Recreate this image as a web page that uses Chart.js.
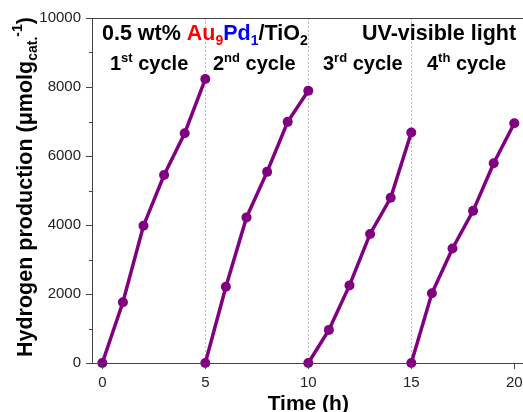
<!DOCTYPE html>
<html><head><meta charset="utf-8">
<script src="https://cdn.jsdelivr.net/npm/chart.js@4.4.1/dist/chart.umd.min.js"></script>
<style>html,body{margin:0;padding:0;background:#fff}#wrap{width:523px;height:412px}</style>
</head><body><div id="wrap"><canvas id="c" width="523" height="412"></canvas></div>
<script>
const cycle1Time = [0, 1, 2, 3, 4, 5];
const cycle1H2 = [0, 1760, 3980, 5450, 6660, 8230];
const cycle2Time = [5, 6, 7, 8, 9, 10];
const cycle2H2 = [0, 2210, 4220, 5540, 6990, 7890];
const cycle3Time = [10, 11, 12, 13, 14, 15];
const cycle3H2 = [0, 960, 2250, 3740, 4790, 6680];
const cycle4Time = [15, 16, 17, 18, 19, 20];
const cycle4H2 = [0, 2020, 3320, 4410, 5790, 6950];
const xTicks = [0, 5, 10, 15, 20];
const yTicks = [0, 2000, 4000, 6000, 8000, 10000];
const cycleDividers = [5, 10, 15];

const PURPLE = '#800080';
const FONT = '"Liberation Sans", Arial, sans-serif';
function pts(t, v){ return t.map((x,i)=>({x:x, y:v[i]})); }
function ds(t, v){ return {data: pts(t,v), borderColor: PURPLE, backgroundColor: PURPLE, borderWidth: 3.5, pointRadius: 5, pointHoverRadius: 5, pointBorderWidth: 0, tension: 0, clip: false}; }

function rich(ctx, x, y, parts){
  let cx = x;
  for (const p of parts){
    ctx.font = 'bold ' + p.s + 'px ' + FONT;
    ctx.fillStyle = p.c || '#000';
    ctx.fillText(p.t, cx, y + (p.dy||0));
    cx += ctx.measureText(p.t).width;
  }
  return cx - x;
}

const deco = {
  id: 'deco',
  beforeDatasetsDraw(chart){
    const ctx = chart.ctx, xs = chart.scales.x, a = chart.chartArea;
    ctx.save();
    ctx.strokeStyle = '#b8b8b8'; ctx.lineWidth = 1; ctx.setLineDash([2,2]);
    for (const d of cycleDividers){
      const px = Math.round(xs.getPixelForValue(d)) + 0.5;
      ctx.beginPath(); ctx.moveTo(px, a.top); ctx.lineTo(px, a.bottom); ctx.stroke();
    }
    ctx.restore();
  },
  afterDraw(chart){
    const ctx = chart.ctx, xs = chart.scales.x, ys = chart.scales.y, a = chart.chartArea;
    const W = chart.width;
    ctx.save();
    ctx.strokeStyle = '#444'; ctx.lineWidth = 1; ctx.setLineDash([]);
    // frame
    ctx.beginPath();
    ctx.moveTo(a.left + 0.5, a.top + 0.5); ctx.lineTo(W, a.top + 0.5);
    ctx.moveTo(a.left + 0.5, a.top); ctx.lineTo(a.left + 0.5, a.bottom + 0.5);
    ctx.moveTo(a.left - 6, a.bottom + 0.5); ctx.lineTo(W, a.bottom + 0.5);
    ctx.stroke();
    // y ticks
    ctx.beginPath();
    for (let v = 0; v <= 10000; v += 1000){
      const py = Math.round(ys.getPixelForValue(v)) + 0.5;
      const len = (v % 2000 === 0) ? 6 : 3;
      ctx.moveTo(a.left - len, py); ctx.lineTo(a.left, py);
    }
    // x ticks
    for (const v of xTicks){
      const px = Math.round(xs.getPixelForValue(v)) + 0.5;
      ctx.moveTo(px, a.bottom); ctx.lineTo(px, a.bottom + 6);
    }
    ctx.stroke();
    // tick labels
    ctx.fillStyle = '#222'; ctx.font = '15px ' + FONT;
    ctx.textAlign = 'right'; ctx.textBaseline = 'middle';
    for (const v of yTicks){ ctx.fillText(String(v), a.left - 11, ys.getPixelForValue(v)); }
    ctx.textAlign = 'center'; ctx.textBaseline = 'alphabetic';
    for (const v of xTicks){ ctx.fillText(String(v), xs.getPixelForValue(v), a.bottom + 24); }
    // x title
    ctx.fillStyle = '#000'; ctx.font = 'bold 21px ' + FONT;
    ctx.fillText('Time (h)', xs.getPixelForValue(10), 410);
    // y title
    ctx.save();
    ctx.translate(32, 357); ctx.rotate(-Math.PI/2);
    ctx.textAlign = 'left';
    rich(ctx, 0, 0, [
      {t:'Hydrogen production (μmolg', s:21.5},
      {t:'cat.', s:14, dy:5},
      {t:'-1', s:14, dy:-10},
      {t:')', s:21.5}
    ]);
    ctx.restore();
    // annotations
    ctx.textAlign = 'left';
    rich(ctx, 102, 40, [
      {t:'0.5 wt% ', s:21.5},
      {t:'Au', s:21.5, c:'#ff0000'},
      {t:'9', s:14, c:'#ff0000', dy:5},
      {t:'Pd', s:21.5, c:'#0000ff'},
      {t:'1', s:14, c:'#0000ff', dy:5},
      {t:'/TiO', s:21.5},
      {t:'2', s:14, dy:5}
    ]);
    rich(ctx, 362, 40, [{t:'UV-visible light', s:21.5}]);
    const cyc = [[110,'1','st'],[213,'2','nd'],[323,'3','rd'],[427,'4','th']];
    for (const c of cyc){
      rich(ctx, c[0], 70, [{t:c[1], s:20},{t:c[2], s:13, dy:-8},{t:' cycle', s:20}]);
    }
    ctx.restore();
  }
};

new Chart(document.getElementById('c'), {
  type: 'line',
  data: { datasets: [ds(cycle1Time,cycle1H2), ds(cycle2Time,cycle2H2), ds(cycle3Time,cycle3H2), ds(cycle4Time,cycle4H2)] },
  options: {
    responsive: false, animation: false, devicePixelRatio: 1,
    layout: { padding: { left: 0, right: 0, top: 18, bottom: 0 } },
    plugins: { legend: {display:false}, tooltip: {enabled:false} },
    scales: {
      x: { type:'linear', min:-0.5, max:20.18,
           grid:{display:false}, border:{display:false},
           ticks:{display:false},
           afterFit(s){ s.height = 49; } },
      y: { type:'linear', min:0, max:10000,
           grid:{display:false}, border:{display:false},
           ticks:{display:false},
           afterFit(s){ s.width = 92; } }
    }
  },
  plugins: [deco]
});
</script></body></html>
